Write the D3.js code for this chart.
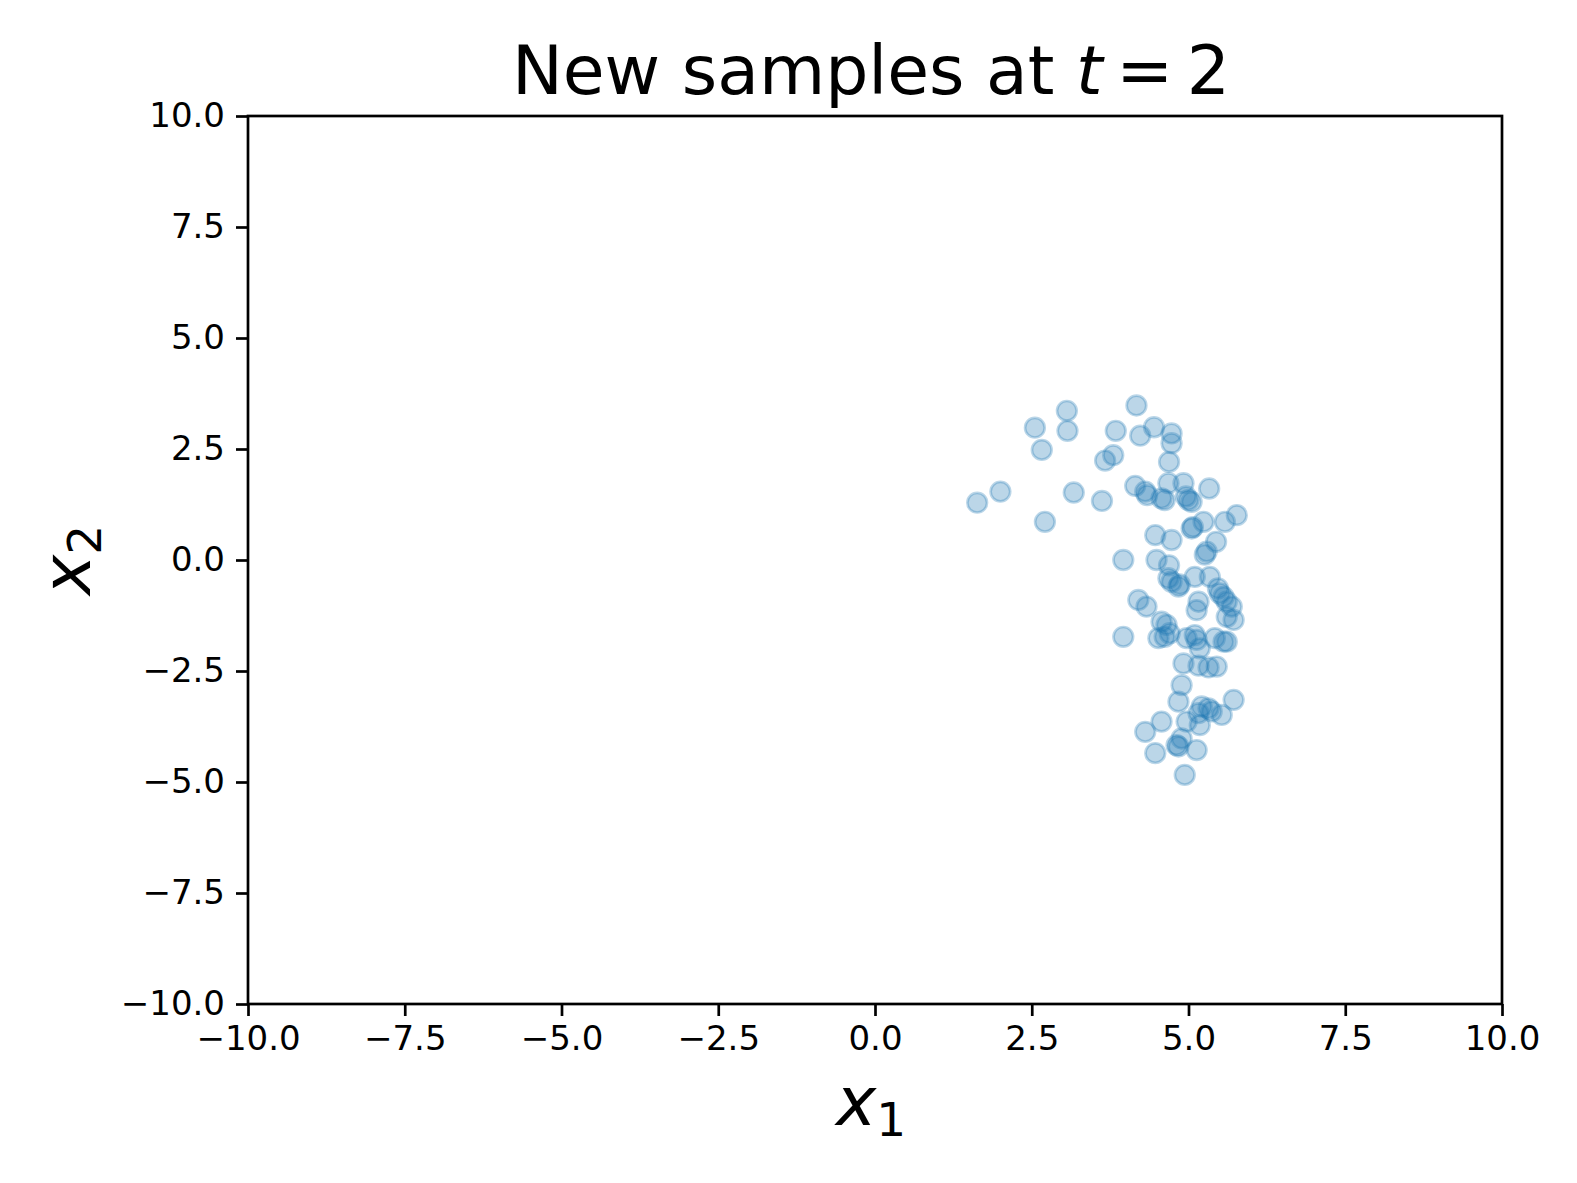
<!DOCTYPE html>
<html>
<head>
<meta charset="utf-8">
<script src="https://cdn.jsdelivr.net/npm/d3@7"></script>
<style>
  html, body { margin: 0; padding: 0; background: #fff; }
  svg { display: block; }
  text { font-family: "DejaVu Sans", sans-serif; fill: #000; }
</style>
</head>
<body>
<svg id="chart" width="1577" height="1183"></svg>
<script>
const title = "New samples at";
const xTicks = [-10, -7.5, -5, -2.5, 0, 2.5, 5, 7.5, 10];
const yTicks = [-10, -7.5, -5, -2.5, 0, 2.5, 5, 7.5, 10];
const x1 = [
  1.63, 2.00, 2.55, 2.66, 3.06, 3.07, 2.71, 3.17, 3.62, 3.67, 3.80, 3.84, 4.17, 4.23, 4.45, 4.73, 4.73, 4.69,
  4.15, 4.31, 4.34, 4.57, 4.62, 4.68, 4.92, 4.96, 5.00, 5.05, 5.33, 5.77, 5.58, 5.24, 5.05, 5.07, 4.47, 4.73,
  5.44, 5.29, 5.26, 3.96, 4.49, 4.69,
  4.68, 4.73, 4.84, 4.86, 5.10, 5.34, 5.47, 5.50, 5.56, 5.61, 5.69, 5.72, 5.61, 5.16, 5.13, 4.20, 4.33, 3.96,
  4.57, 4.65, 4.52, 4.62, 4.70, 4.97, 5.10, 5.13, 5.18, 5.42, 5.56, 5.61, 4.92, 5.16, 5.45,
  5.32, 4.89, 4.84, 5.72, 5.21, 5.32, 5.37, 5.53, 5.16, 4.97, 5.18, 4.57, 4.31, 4.89, 4.81, 4.84, 5.13, 4.47, 4.94
];
const x2 = [
  1.29, 1.54, 2.98, 2.48, 3.36, 2.91, 0.86, 1.52, 1.33, 2.24, 2.36, 2.91, 3.48, 2.80, 2.99, 2.85, 2.63, 2.21,
  1.67, 1.54, 1.46, 1.39, 1.35, 1.73, 1.73, 1.43, 1.35, 1.31, 1.61, 1.01, 0.86, 0.86, 0.71, 0.74, 0.56, 0.45,
  0.41, 0.19, 0.12, 0.00, 0.00, -0.12,
  -0.41, -0.49, -0.60, -0.55, -0.38, -0.38, -0.64, -0.75, -0.83, -0.94, -1.05, -1.35, -1.28, -0.94, -1.13, -0.90, -1.05, -1.73,
  -1.39, -1.46, -1.76, -1.73, -1.65, -1.76, -1.69, -1.80, -1.99, -1.76, -1.84, -1.84, -2.33, -2.38, -2.40,
  -2.42, -2.82, -3.19, -3.15, -3.30, -3.34, -3.41, -3.49, -3.45, -3.64, -3.72, -3.64, -3.87, -4.02, -4.17, -4.20, -4.28, -4.35, -4.84
];

const svg = d3.select("#chart");
const L = 248, R = 1502, T = 116, B = 1004;
const x = d3.scaleLinear().domain([-10, 10]).range([L, R]);
const y = d3.scaleLinear().domain([-10, 10]).range([B, T]);
const fmt = d => d3.format(".1f")(d).replace("-", "\u2212");

// points
svg.append("g").selectAll("circle")
  .data(x1.map((v, i) => [v, x2[i]]))
  .join("circle")
  .attr("cx", d => x(d[0]))
  .attr("cy", d => y(d[1]))
  .attr("r", 9.8)
  .attr("fill", "#1f77b4").attr("fill-opacity", 0.3)
  .attr("stroke", "#1f77b4").attr("stroke-opacity", 0.3).attr("stroke-width", 2.7);

// axes
const xAxis = d3.axisBottom(x).tickValues(xTicks).tickFormat(fmt).tickSize(12).tickPadding(10).tickSizeOuter(0);
const yAxis = d3.axisLeft(y).tickValues(yTicks).tickFormat(fmt).tickSize(12).tickPadding(11).tickSizeOuter(0);
const gx = svg.append("g").attr("transform", `translate(0,${B})`).call(xAxis);
const gy = svg.append("g").attr("transform", `translate(${L},0)`).call(yAxis);
[gx, gy].forEach(g => {
  g.select(".domain").remove();
  g.selectAll(".tick line").attr("stroke", "#000").attr("stroke-width", 2.7);
  g.selectAll(".tick text").attr("font-size", 34).attr("font-family", "DejaVu Sans").attr("fill", "#000");
});

// frame
svg.append("rect").attr("x", L).attr("y", T).attr("width", R - L).attr("height", B - T)
  .attr("fill", "none").attr("stroke", "#000").attr("stroke-width", 2.7);

// title
const tt = svg.append("text").attr("x", (L + R) / 2 - 4).attr("y", 94).attr("text-anchor", "middle").attr("font-size", 68);
tt.append("tspan").text(title + " ");
tt.append("tspan").attr("font-style", "italic").text("t");
tt.append("tspan").text("\u2009=\u20092");

// x label
const xl = svg.append("text").attr("x", (L + R) / 2 - 4).attr("y", 1125).attr("text-anchor", "middle").attr("font-size", 68);
xl.append("tspan").attr("font-style", "italic").text("x");
xl.append("tspan").attr("font-size", 47).attr("dy", 11).text("1");

// y label
const yl = svg.append("text").attr("transform", `translate(90,${(T + B) / 2}) rotate(-90)`).attr("text-anchor", "middle").attr("font-size", 68);
yl.append("tspan").attr("font-style", "italic").text("x");
yl.append("tspan").attr("font-size", 47).attr("dy", 11).text("2");
</script>
</body>
</html>
